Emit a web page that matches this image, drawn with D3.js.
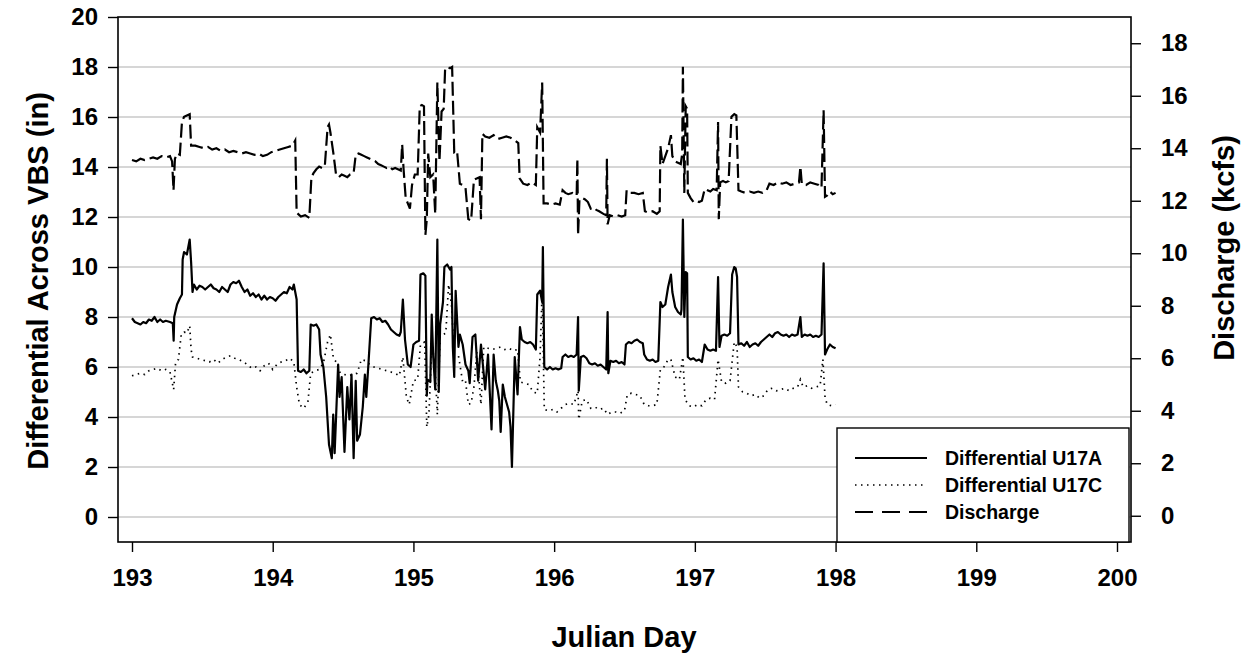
<!DOCTYPE html>
<html><head><meta charset="utf-8">
<script src="https://cdn.jsdelivr.net/npm/d3@7"></script>
<style>body{margin:0;background:#fff}svg{display:block}text{font-family:"Liberation Sans",Arial,sans-serif;font-weight:bold;fill:#000}</style>
</head><body>
<script>
const xTicks = [193,194,195,196,197,198,199,200];
const yLeftTicks = [0,2,4,6,8,10,12,14,16,18,20];
const yRightTicks = [0,2,4,6,8,10,12,14,16,18];
const seriesNames = ["Differential U17A","Differential U17C","Discharge"];

// Differential U17A (in): [julian day, value]
const u17a = [[193.00,7.95],[193.02,7.8],[193.04,7.75],[193.06,7.7],[193.08,7.8],[193.10,7.75],[193.12,7.9],[193.14,7.85],[193.16,8.0],[193.18,7.8],[193.20,7.9],[193.22,7.8],[193.24,7.85],[193.27,7.8],[193.29,7.75],[193.296,7.05],[193.30,8.0],[193.32,8.5],[193.34,8.75],[193.355,8.9],[193.36,10.3],[193.37,10.6],[193.39,10.5],[193.40,10.8],[193.41,11.1],[193.42,10.2],[193.43,9.0],[193.44,9.3],[193.46,9.1],[193.48,9.25],[193.50,9.2],[193.52,9.1],[193.54,9.2],[193.56,9.3],[193.58,9.15],[193.60,9.1],[193.62,9.0],[193.64,9.2],[193.66,9.1],[193.68,9.0],[193.70,9.3],[193.72,9.4],[193.74,9.35],[193.76,9.45],[193.78,9.2],[193.80,9.0],[193.82,9.1],[193.84,8.85],[193.86,8.95],[193.88,8.8],[193.90,8.9],[193.92,8.7],[193.94,8.85],[193.96,8.7],[193.98,8.8],[194.00,8.75],[194.02,8.65],[194.04,8.8],[194.06,8.9],[194.08,9.0],[194.10,8.95],[194.12,9.2],[194.14,9.1],[194.15,9.3],[194.16,9.0],[194.17,8.7],[194.18,5.85],[194.20,5.8],[194.22,5.9],[194.24,5.75],[194.26,5.85],[194.27,7.7],[194.29,7.65],[194.31,7.7],[194.33,7.5],[194.34,6.5],[194.36,6.0],[194.38,4.8],[194.40,2.9],[194.42,2.35],[194.43,4.1],[194.44,2.55],[194.465,6.1],[194.475,4.8],[194.49,5.6],[194.51,2.6],[194.53,5.2],[194.545,3.9],[194.56,5.7],[194.575,2.35],[194.59,5.45],[194.60,3.05],[194.62,3.3],[194.64,4.4],[194.655,5.7],[194.665,4.8],[194.68,6.1],[194.70,7.95],[194.72,8.0],[194.74,7.9],[194.76,7.95],[194.78,7.8],[194.80,7.85],[194.82,7.7],[194.84,7.5],[194.86,7.4],[194.88,7.3],[194.90,7.25],[194.91,7.4],[194.925,8.7],[194.94,7.1],[194.96,6.1],[194.98,6.0],[195.00,6.9],[195.02,7.0],[195.04,7.05],[195.05,9.7],[195.07,9.75],[195.085,9.65],[195.095,4.85],[195.10,5.5],[195.12,5.4],[195.13,8.1],[195.14,6.5],[195.155,5.1],[195.17,11.1],[195.18,5.0],[195.19,7.7],[195.21,8.6],[195.22,10.0],[195.24,10.1],[195.26,9.9],[195.27,10.0],[195.28,6.8],[195.29,5.6],[195.30,9.05],[195.32,6.8],[195.33,7.3],[195.35,6.9],[195.37,6.1],[195.39,5.85],[195.40,5.35],[195.42,7.2],[195.44,7.3],[195.46,5.45],[195.48,6.9],[195.50,5.7],[195.51,5.1],[195.53,6.5],[195.555,3.5],[195.57,6.5],[195.585,5.45],[195.60,5.05],[195.61,4.65],[195.62,3.4],[195.635,5.3],[195.65,4.8],[195.67,4.4],[195.68,4.2],[195.69,3.6],[195.70,2.0],[195.72,6.4],[195.74,4.9],[195.757,7.6],[195.77,7.1],[195.79,7.0],[195.81,6.95],[195.83,7.0],[195.85,6.9],[195.87,6.7],[195.88,8.9],[195.90,9.05],[195.915,8.6],[195.92,10.8],[195.93,6.0],[195.95,5.9],[195.97,6.0],[195.99,5.9],[196.01,5.95],[196.03,5.9],[196.05,5.95],[196.06,6.4],[196.08,6.5],[196.10,6.4],[196.12,6.45],[196.14,6.4],[196.16,6.5],[196.17,8.0],[196.175,5.05],[196.19,6.4],[196.21,6.45],[196.23,6.35],[196.25,6.15],[196.27,6.1],[196.29,6.15],[196.31,6.05],[196.33,6.1],[196.35,6.0],[196.37,5.9],[196.38,8.2],[196.385,5.75],[196.40,6.25],[196.42,6.2],[196.44,6.25],[196.46,6.15],[196.48,6.2],[196.50,6.1],[196.51,6.9],[196.53,7.0],[196.55,6.95],[196.57,7.05],[196.59,7.1],[196.61,7.0],[196.63,6.95],[196.64,6.5],[196.66,6.3],[196.68,6.25],[196.70,6.3],[196.72,6.2],[196.74,6.25],[196.755,8.6],[196.77,8.4],[196.79,8.5],[196.81,9.2],[196.83,9.7],[196.84,9.0],[196.86,8.4],[196.88,8.2],[196.90,8.1],[196.905,8.3],[196.915,11.9],[196.925,8.0],[196.935,9.8],[196.945,9.75],[196.95,6.4],[196.97,6.3],[196.99,6.35],[197.01,6.25],[197.03,6.3],[197.05,6.2],[197.07,6.9],[197.09,6.7],[197.11,6.65],[197.13,6.7],[197.15,6.65],[197.165,9.6],[197.175,6.8],[197.19,7.25],[197.21,7.3],[197.23,7.25],[197.25,7.35],[197.265,9.7],[197.28,10.0],[197.29,9.95],[197.30,9.6],[197.31,6.9],[197.33,6.95],[197.35,6.85],[197.37,7.0],[197.39,6.8],[197.41,6.9],[197.43,6.95],[197.45,6.85],[197.47,7.0],[197.49,7.1],[197.51,7.2],[197.53,7.3],[197.55,7.2],[197.57,7.35],[197.59,7.4],[197.61,7.3],[197.63,7.25],[197.65,7.3],[197.67,7.2],[197.69,7.3],[197.71,7.25],[197.73,7.3],[197.75,8.0],[197.76,7.2],[197.78,7.3],[197.80,7.25],[197.82,7.3],[197.84,7.2],[197.86,7.25],[197.88,7.2],[197.90,7.3],[197.915,10.15],[197.925,6.5],[197.94,6.7],[197.96,6.9],[197.98,6.8],[198.00,6.75]];

// Differential U17C (in)
const u17c = [[193.00,5.65],[193.03,5.7],[193.06,5.75],[193.09,5.7],[193.12,5.85],[193.15,5.9],[193.18,5.95],[193.21,5.85],[193.24,5.9],[193.27,5.8],[193.296,5.1],[193.31,6.2],[193.33,6.3],[193.35,7.3],[193.37,7.4],[193.39,7.35],[193.41,7.65],[193.42,6.7],[193.43,6.4],[193.46,6.35],[193.49,6.3],[193.52,6.25],[193.55,6.2],[193.58,6.3],[193.61,6.15],[193.64,6.3],[193.67,6.4],[193.70,6.45],[193.73,6.35],[193.76,6.3],[193.79,6.2],[193.82,6.1],[193.85,5.95],[193.88,6.0],[193.91,5.85],[193.94,6.05],[193.97,6.15],[194.00,5.9],[194.03,6.1],[194.06,6.2],[194.09,6.25],[194.12,6.35],[194.15,6.2],[194.17,5.2],[194.19,4.5],[194.22,4.35],[194.25,4.6],[194.27,5.75],[194.30,5.85],[194.33,5.9],[194.36,6.15],[194.39,7.0],[194.41,7.3],[194.43,6.4],[194.45,6.2],[194.48,5.75],[194.51,5.7],[194.54,5.65],[194.57,5.7],[194.60,5.75],[194.63,6.3],[194.66,6.25],[194.69,6.1],[194.72,6.0],[194.75,5.95],[194.78,5.9],[194.81,5.85],[194.84,5.8],[194.87,5.75],[194.90,5.65],[194.925,6.4],[194.95,4.8],[194.97,4.5],[195.00,5.45],[195.03,5.5],[195.05,6.9],[195.08,7.0],[195.095,3.6],[195.11,4.1],[195.13,6.7],[195.15,6.4],[195.17,4.1],[195.19,7.2],[195.21,7.3],[195.23,7.35],[195.25,9.3],[195.27,8.5],[195.29,6.5],[195.32,6.45],[195.35,5.4],[195.37,5.45],[195.39,4.5],[195.41,4.55],[195.43,5.2],[195.45,6.6],[195.48,4.5],[195.50,6.8],[195.53,6.75],[195.56,6.7],[195.59,6.75],[195.62,6.8],[195.65,6.7],[195.68,6.75],[195.71,6.65],[195.74,6.7],[195.76,5.4],[195.79,5.35],[195.82,5.3],[195.85,5.0],[195.88,4.95],[195.90,6.4],[195.915,9.1],[195.93,4.3],[195.96,4.25],[195.99,4.3],[196.02,4.2],[196.05,4.35],[196.08,4.5],[196.11,4.55],[196.14,4.5],[196.17,5.05],[196.175,3.9],[196.20,4.65],[196.23,4.7],[196.26,4.35],[196.29,4.4],[196.32,4.3],[196.35,4.35],[196.38,4.1],[196.41,4.2],[196.44,4.2],[196.47,4.15],[196.50,4.25],[196.52,4.9],[196.55,4.95],[196.58,4.9],[196.61,4.85],[196.64,4.5],[196.67,4.45],[196.70,4.45],[196.73,4.5],[196.755,5.9],[196.78,6.0],[196.81,6.3],[196.83,6.3],[196.86,5.6],[196.89,5.5],[196.915,6.4],[196.93,4.7],[196.96,4.45],[196.99,4.4],[197.02,4.5],[197.05,4.45],[197.08,4.7],[197.11,4.75],[197.14,4.7],[197.165,6.3],[197.19,5.4],[197.22,5.35],[197.25,5.45],[197.28,7.0],[197.30,6.8],[197.31,5.2],[197.34,5.0],[197.37,4.95],[197.40,4.85],[197.43,4.9],[197.46,4.75],[197.49,4.85],[197.52,5.1],[197.55,5.15],[197.58,5.05],[197.61,5.1],[197.64,5.15],[197.67,5.05],[197.70,5.15],[197.73,5.2],[197.75,5.5],[197.77,5.2],[197.80,5.25],[197.83,5.15],[197.86,5.2],[197.89,5.25],[197.91,6.3],[197.925,4.8],[197.94,4.5],[197.97,4.45],[198.00,4.5]];

// Discharge (kcfs)
const discharge = [[193.00,13.55],[193.03,13.5],[193.06,13.6],[193.09,13.55],[193.12,13.6],[193.15,13.65],[193.18,13.6],[193.21,13.7],[193.24,13.65],[193.27,13.7],[193.285,13.5],[193.295,12.4],[193.305,13.6],[193.32,13.8],[193.34,13.75],[193.355,15.0],[193.37,15.2],[193.39,15.25],[193.41,15.3],[193.42,14.1],[193.45,14.1],[193.48,14.05],[193.51,14.0],[193.54,14.05],[193.57,13.95],[193.60,14.0],[193.63,13.9],[193.66,13.95],[193.69,13.85],[193.72,13.9],[193.75,13.85],[193.78,13.8],[193.81,13.85],[193.84,13.8],[193.87,13.75],[193.90,13.8],[193.93,13.7],[193.96,13.75],[193.99,13.85],[194.02,13.9],[194.05,13.95],[194.08,14.0],[194.11,14.05],[194.14,14.1],[194.16,14.3],[194.17,11.55],[194.20,11.4],[194.23,11.45],[194.26,11.35],[194.275,12.9],[194.29,13.05],[194.31,13.2],[194.33,13.3],[194.35,13.25],[194.37,13.3],[194.39,14.8],[194.40,14.9],[194.41,14.6],[194.43,13.85],[194.45,13.0],[194.47,12.9],[194.49,13.0],[194.51,12.95],[194.53,12.9],[194.55,13.0],[194.575,13.05],[194.59,13.75],[194.61,13.8],[194.63,13.75],[194.65,13.7],[194.67,13.65],[194.69,13.6],[194.71,13.55],[194.73,13.5],[194.75,13.4],[194.77,13.35],[194.79,13.3],[194.81,13.25],[194.83,13.3],[194.85,13.2],[194.87,13.25],[194.89,13.2],[194.91,13.15],[194.92,14.15],[194.93,13.2],[194.945,12.1],[194.96,11.9],[194.975,11.7],[194.99,12.6],[195.01,13.0],[195.03,13.0],[195.045,15.6],[195.06,15.65],[195.075,15.6],[195.085,10.7],[195.095,11.3],[195.105,13.8],[195.12,12.9],[195.14,13.0],[195.155,11.5],[195.17,16.5],[195.185,13.5],[195.20,15.4],[195.215,15.5],[195.225,17.0],[195.24,17.1],[195.26,17.05],[195.275,17.1],[195.29,13.85],[195.31,13.9],[195.33,12.65],[195.35,12.6],[195.37,12.5],[195.39,11.3],[195.41,11.25],[195.43,12.8],[195.45,12.85],[195.47,12.9],[195.48,11.3],[195.49,14.55],[195.51,14.45],[195.54,14.4],[195.57,14.5],[195.60,14.35],[195.63,14.4],[195.66,14.45],[195.69,14.4],[195.72,14.3],[195.745,14.2],[195.755,12.85],[195.78,12.65],[195.81,12.6],[195.84,12.7],[195.87,12.6],[195.88,14.8],[195.90,14.6],[195.915,16.5],[195.925,11.9],[195.95,11.9],[195.98,11.85],[196.01,11.9],[196.04,11.85],[196.06,12.4],[196.08,12.3],[196.10,12.25],[196.13,12.3],[196.16,12.2],[196.165,13.6],[196.17,10.7],[196.18,12.05],[196.20,12.1],[196.22,12.05],[196.24,11.95],[196.26,11.7],[196.28,11.75],[196.30,11.65],[196.32,11.6],[196.35,11.5],[196.37,11.45],[196.375,13.6],[196.38,11.1],[196.395,11.45],[196.42,11.4],[196.45,11.45],[196.48,11.4],[196.505,11.45],[196.515,12.4],[196.54,12.3],[196.57,12.3],[196.60,12.25],[196.63,12.3],[196.645,11.6],[196.67,11.55],[196.70,11.6],[196.73,11.5],[196.75,11.6],[196.755,14.1],[196.77,13.4],[196.79,13.7],[196.81,14.0],[196.83,14.5],[196.84,13.7],[196.86,13.5],[196.88,13.45],[196.90,13.4],[196.91,13.8],[196.915,17.1],[196.925,12.3],[196.935,15.6],[196.945,15.5],[196.95,12.3],[196.97,12.1],[196.99,11.95],[197.01,12.0],[197.03,11.95],[197.05,12.0],[197.07,12.45],[197.09,12.4],[197.11,12.35],[197.13,12.45],[197.155,12.4],[197.165,15.0],[197.17,11.3],[197.18,12.7],[197.20,12.75],[197.22,12.7],[197.24,12.75],[197.26,15.2],[197.28,15.3],[197.295,15.25],[197.31,12.4],[197.33,12.35],[197.36,12.3],[197.39,12.35],[197.42,12.3],[197.45,12.35],[197.48,12.3],[197.51,12.4],[197.53,12.65],[197.56,12.6],[197.59,12.7],[197.62,12.65],[197.65,12.7],[197.68,12.6],[197.71,12.65],[197.74,12.7],[197.75,13.3],[197.76,12.65],[197.79,12.6],[197.82,12.7],[197.85,12.65],[197.88,12.6],[197.90,12.5],[197.915,15.45],[197.925,12.15],[197.94,12.2],[197.96,12.35],[197.98,12.25],[198.00,12.3]];

const W = 1252, H = 656;
const frame = {left:118, right:1131, top:17, bottom:542};
const FONT = '"Liberation Sans",Arial,sans-serif';
const svg = d3.select("body").append("svg").attr("width",W).attr("height",H);

const x = d3.scaleLinear().domain([193,200]).range([132,1117]);
const yL = d3.scaleLinear().domain([-1,20]).range([frame.bottom, frame.top]);
const yR = d3.scaleLinear().domain([-1,19]).range([frame.bottom, frame.top]);

// gridlines
svg.append("g").selectAll("line").data(yLeftTicks.filter(d=>d<20)).join("line")
  .attr("x1",frame.left).attr("x2",frame.right)
  .attr("y1",d=>yL(d)).attr("y2",d=>yL(d))
  .attr("stroke","#c8c8c8").attr("stroke-width",1.3);

const line = (ys) => d3.line().x(d=>x(d[0])).y(d=>ys(d[1]));

svg.append("path").datum(u17c).attr("d",line(yL)).attr("fill","none")
  .attr("stroke","#000").attr("stroke-width",1.7).attr("stroke-dasharray","1.5,4.5");
svg.append("path").datum(discharge).attr("d",line(yR)).attr("fill","none")
  .attr("stroke","#000").attr("stroke-width",2.2).attr("stroke-dasharray","14,5");
svg.append("path").datum(u17a).attr("d",line(yL)).attr("fill","none")
  .attr("stroke","#000").attr("stroke-width",2.2).attr("stroke-linejoin","round");

// frame
svg.append("rect").attr("x",frame.left).attr("y",frame.top)
  .attr("width",frame.right-frame.left).attr("height",frame.bottom-frame.top)
  .attr("fill","none").attr("stroke","#000").attr("stroke-width",1.6);

// axes
const axL = svg.append("g").attr("transform",`translate(${frame.left},0)`)
  .call(d3.axisLeft(yL).tickValues(yLeftTicks).tickSize(10).tickPadding(10).tickFormat(d3.format("d")));
const axR = svg.append("g").attr("transform",`translate(${frame.right},0)`)
  .call(d3.axisRight(yR).tickValues(yRightTicks).tickSize(10).tickPadding(20).tickFormat(d3.format("d")));
const axB = svg.append("g").attr("transform",`translate(0,${frame.bottom})`)
  .call(d3.axisBottom(x).tickValues(xTicks).tickSize(10).tickPadding(17).tickFormat(d3.format("d")));
[axL,axR,axB].forEach(a=>{
  a.select(".domain").remove();
  a.selectAll(".tick line").attr("stroke","#000").attr("stroke-width",1.4);
  a.selectAll(".tick text").style("font-size","24px").style("font-weight","bold")
    .style("font-family",FONT).attr("fill","#000");
});

// titles
svg.append("text").attr("transform",`translate(48,281) rotate(-90)`).attr("text-anchor","middle")
  .style("font-size","29px").text("Differential Across VBS (in)");
svg.append("text").attr("transform",`translate(1234,248) rotate(-90)`).attr("text-anchor","middle")
  .style("font-size","29px").text("Discharge (kcfs)");
svg.append("text").attr("x",624).attr("y",647).attr("text-anchor","middle")
  .style("font-size","29px").text("Julian Day");

// legend
const lg = svg.append("g");
lg.append("rect").attr("x",837).attr("y",428).attr("width",frame.right-837-2).attr("height",frame.bottom-428)
  .attr("fill","#fff").attr("stroke","#000").attr("stroke-width",1.4);
const styles = [{w:2.2,dash:null},{w:1.7,dash:"1.5,4.5"},{w:2.2,dash:"18,9"}];
seriesNames.forEach((n,i)=>{
  const yy = 458 + i*27;
  lg.append("line").attr("x1",855).attr("x2",927).attr("y1",yy).attr("y2",yy)
    .attr("stroke","#000").attr("stroke-width",styles[i].w).attr("stroke-dasharray",styles[i].dash);
  lg.append("text").attr("x",945).attr("y",yy+7).style("font-size","19.5px").text(n);
});
</script>
</body></html>
